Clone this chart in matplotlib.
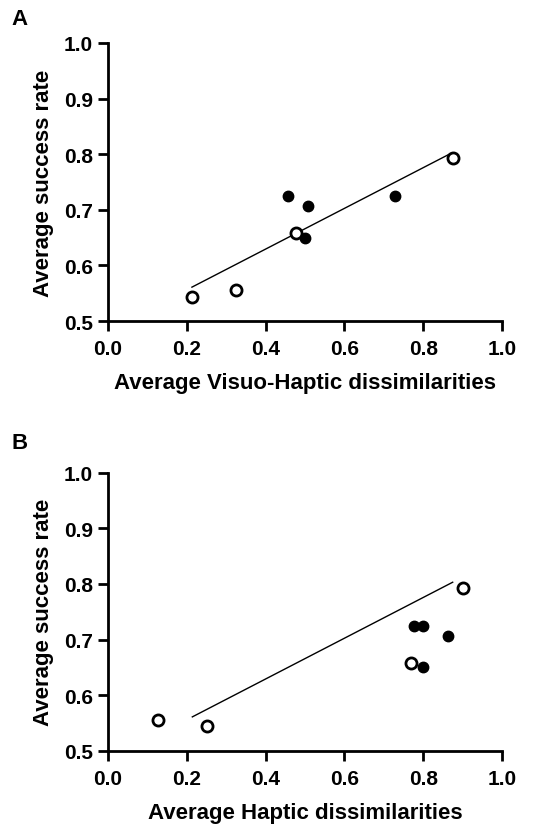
import matplotlib.pyplot as plt

plt.rcParams['font.family'] = ['Liberation Sans', 'DejaVu Sans']
plt.rcParams['font.weight'] = 'bold'

# panel A: visuo-haptic dissimilarities
a_open_x = [0.213, 0.324, 0.477, 0.875]
a_open_y = [0.544, 0.556, 0.658, 0.793]
a_fill_x = [0.458, 0.508, 0.500, 0.728]
a_fill_y = [0.724, 0.706, 0.650, 0.724]
a_fit_x = [0.213, 0.872]
a_fit_y = [0.561, 0.802]

# panel B: haptic dissimilarities
b_open_x = [0.126, 0.250, 0.768, 0.900]
b_open_y = [0.556, 0.544, 0.657, 0.793]
b_fill_x = [0.777, 0.800, 0.800, 0.863]
b_fill_y = [0.724, 0.724, 0.650, 0.707]
b_fit_x = [0.214, 0.875]
b_fit_y = [0.561, 0.803]

xticks = [0.0, 0.2, 0.4, 0.6, 0.8, 1.0]
yticks = [0.5, 0.6, 0.7, 0.8, 0.9, 1.0]

fig = plt.figure(figsize=(5.54, 8.28), dpi=100)

panels = [
    ('A', [0.195, 0.611, 0.711, 0.336], a_open_x, a_open_y, a_fill_x, a_fill_y,
     a_fit_x, a_fit_y, 'Average Visuo-Haptic dissimilarities', 0.977),
    ('B', [0.195, 0.092, 0.711, 0.336], b_open_x, b_open_y, b_fill_x, b_fill_y,
     b_fit_x, b_fit_y, 'Average Haptic dissimilarities', 0.464),
]

for letter, rect, ox, oy, fx, fy, lx, ly, xlabel, ly_fig in panels:
    ax = fig.add_axes(rect)
    ax.plot(lx, ly, color='black', lw=1.0, zorder=2)
    ax.plot(fx, fy, 'o', color='black', markersize=7.5, zorder=3, clip_on=False)
    ax.plot(ox, oy, 'o', markerfacecolor='white', markeredgecolor='black',
            markeredgewidth=2, markersize=8, zorder=4, clip_on=False)
    ax.set_xlim(0, 1)
    ax.set_ylim(0.5, 1.0)
    ax.set_xticks(xticks)
    ax.set_yticks(yticks)
    ax.set_xticklabels(['%.1f' % v for v in xticks])
    ax.set_yticklabels(['%.1f' % v for v in yticks])
    for s in ['top', 'right']:
        ax.spines[s].set_visible(False)
    for s in ['left', 'bottom']:
        ax.spines[s].set_linewidth(2)
    ax.tick_params(width=2, length=7, labelsize=15, pad=4)
    ax.tick_params(axis='x', pad=6)
    ax.set_xlabel(xlabel, fontsize=16, fontweight='bold', labelpad=10)
    ax.set_ylabel('Average success rate', fontsize=16, fontweight='bold', labelpad=7)
    fig.text(0.02, ly_fig, letter, fontsize=16, fontweight='bold', va='center')

plt.savefig('out.png', dpi=100)
